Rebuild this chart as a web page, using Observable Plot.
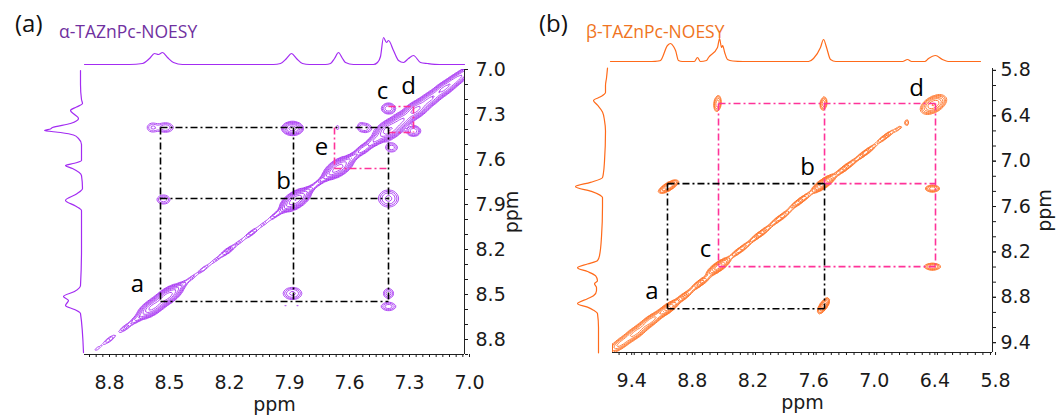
<!DOCTYPE html>
<html><head><meta charset="utf-8">
<script src="https://cdn.jsdelivr.net/npm/d3@7"></script>
<script src="https://cdn.jsdelivr.net/npm/@observablehq/plot@0.6"></script>
<style>
html,body{margin:0;padding:0;background:#fff;}
#wrap{position:relative;width:1056px;height:415px;overflow:hidden;}
.layer{position:absolute;}
.layer svg{display:block;max-width:none;}
.txt{position:absolute;white-space:nowrap;line-height:1;font-family:"Open Sans",sans-serif;}
</style></head><body>
<div id="wrap">
  <div class="txt" style="left:15px;top:11px;font-size:24px;color:#111">(a)</div>
  <div class="txt" style="left:59px;top:23px;font-size:17.5px;color:#7030a0">α-TAZnPc-NOESY</div>
  <div class="txt" style="left:539px;top:11px;font-size:24px;color:#111">(b)</div>
  <div class="txt" style="left:586px;top:23px;font-size:17.5px;color:#f07422">β-TAZnPc-NOESY</div>
</div>
<script>
// ---------- shared ----------
const contourLevels = [0.05, 0.075, 0.11, 0.17, 0.25, 0.38, 0.57, 0.85, 1.28, 1.9, 2.9];
const pink = "#ff3399";

// ---------- panel (a): alpha ----------
const xDomainA = [8.925, 7.025];
const yDomainA = [7.0, 8.9];
const xTicksA = [8.8, 8.5, 8.2, 7.9, 7.6, 7.3, 7.0];
const yTicksA = [7.0, 7.3, 7.6, 7.9, 8.2, 8.5, 8.8];
// diagonal peaks: [x ppm, y ppm, amplitude, width along diagonal, width across]
const diagA = [
  [8.86,8.86,0.07,0.02,0.01],[8.80,8.80,0.12,0.02,0.012],[8.72,8.72,0.14,0.022,0.012],
  [8.66,8.66,0.2,0.02,0.014],[8.585,8.585,1.0,0.03,0.026],[8.51,8.51,1.1,0.03,0.026],
  [8.45,8.45,0.2,0.022,0.014],[8.39,8.39,0.1,0.02,0.01],[8.33,8.33,0.12,0.02,0.01],
  [8.27,8.27,0.09,0.02,0.01],[8.21,8.21,0.2,0.022,0.012],[8.15,8.15,0.09,0.02,0.01],
  [8.09,8.09,0.16,0.02,0.011],[8.03,8.03,0.09,0.02,0.01],[7.97,7.97,0.15,0.02,0.011],
  [7.92,7.92,0.2,0.02,0.013],[7.87,7.87,1.3,0.028,0.028],[7.81,7.81,0.25,0.022,0.014],
  [7.75,7.75,0.18,0.02,0.012],[7.70,7.70,0.3,0.022,0.016],[7.655,7.655,1.1,0.028,0.028],
  [7.59,7.59,0.3,0.022,0.016],[7.53,7.53,0.35,0.022,0.018],[7.47,7.47,0.4,0.022,0.02],
  [7.40,7.40,1.3,0.028,0.032],[7.34,7.34,0.8,0.025,0.028],[7.27,7.27,1.0,0.028,0.028],
  [7.20,7.20,0.6,0.028,0.025],[7.13,7.13,0.6,0.028,0.024],[7.07,7.07,0.45,0.028,0.022],
  [7.01,7.01,0.3,0.025,0.02]
];
// cross peaks: [x ppm, y ppm, amplitude, sx, sy, tilt]
const crossA = [
  [8.585,7.387,0.12,0.02,0.022,0],[8.52,7.387,0.17,0.025,0.02,0],
  [7.885,7.393,0.5,0.0256,0.0217,0],[7.66,7.387,0.07,0.01,0.02,0],[7.545,7.38,0.08,0.012,0.02,0],
  [8.53,7.867,0.15,0.022,0.02,0],[8.595,7.907,0.06,0.008,0.01,0],
  [7.405,7.86,0.2,0.03,0.034,0],
  [7.885,8.493,0.2,0.028,0.024,0],[7.92,8.573,0.06,0.006,0.01,0],[7.86,8.573,0.06,0.006,0.01,0],
  [7.405,8.493,0.15,0.017,0.022,0],[7.405,8.58,0.15,0.025,0.018,0],
  [7.405,7.26,0.25,0.02,0.02,0],[7.28,7.41,0.25,0.02,0.02,0],
  [7.52,7.39,0.15,0.02,0.02,0],[7.39,7.52,0.15,0.02,0.02,0]
];
// correlation lines [x1, y1, x2, y2] in ppm
const blackA = [
  [8.545,7.387,7.405,7.387],[8.545,7.86,7.405,7.86],[8.545,8.547,7.405,8.547],
  [8.545,7.387,8.545,8.547],[7.88,7.387,7.88,8.547],[7.405,7.387,7.405,8.547]
];
const pinkA = [
  [7.675,7.387,7.675,7.66],[7.675,7.66,7.405,7.66],
  [7.405,7.247,7.28,7.247],[7.28,7.247,7.28,7.42],[7.405,7.42,7.28,7.42]
];
const labelsA = [["a",8.66,8.433],["b",7.93,7.747],["c",7.435,7.147],["d",7.305,7.113],["e",7.74,7.52]];
// 1D projections: [ppm, intensity]
const topA = [
  [8.925,0],[8.7,0],[8.635,1],[8.6,6],[8.575,11],[8.555,10],[8.535,12],[8.51,7],[8.48,2],[8.435,0],
  [7.98,0],[7.945,1],[7.915,6],[7.89,11],[7.865,6],[7.835,1],[7.8,0],
  [7.72,0],[7.695,1],[7.675,6],[7.655,12],[7.635,6],[7.62,2],[7.58,0],
  [7.48,0],[7.46,2],[7.445,8],[7.43,27],[7.415,22],[7.405,24],[7.38,14],[7.355,4],[7.33,2],
  [7.305,6],[7.28,9],[7.245,2],[7.21,1],[7.15,0],[7.025,0]
];
const leftA = [
  [7.007,0],[7.1,0],[7.2,-1],[7.227,-2],[7.25,4],[7.273,10],[7.3,6],[7.327,2],[7.36,10],
  [7.387,28],[7.397,30],[7.407,36],[7.42,20],[7.437,7],[7.46,2],[7.5,-1],[7.607,-1],
  [7.625,6],[7.64,15],[7.66,8],[7.707,-1],[7.793,-2],[7.83,4],[7.873,15],[7.91,5],[7.94,-1],
  [8.2,-1],[8.44,0],[8.48,6],[8.513,17],[8.54,12],[8.573,15],[8.6,6],[8.627,0],[8.887,-3]
];

// ---------- panel (b): beta ----------
const xDomainB = [9.59, 5.83];
const yDomainB = [5.775, 9.53];
const xTicksB = [9.4, 8.8, 8.2, 7.6, 7.0, 6.4, 5.8];
const yTicksB = [5.8, 6.4, 7.0, 7.6, 8.2, 8.8, 9.4];
const diagB = [
  [9.51,9.414,0.3,0.06,0.042],[9.362,9.269,0.45,0.06,0.042],[9.214,9.11,0.5,0.06,0.038],
  [9.046,8.951,0.7,0.05,0.032],[8.887,8.792,0.3,0.05,0.024],[8.719,8.607,0.35,0.05,0.024],
  [8.541,8.395,0.8,0.05,0.032],[8.323,8.17,0.28,0.06,0.021],[8.125,7.959,0.3,0.06,0.021],
  [7.928,7.747,0.28,0.06,0.021],[7.73,7.522,0.32,0.06,0.021],[7.502,7.297,0.8,0.05,0.032],
  [7.284,7.085,0.32,0.06,0.021],[7.087,6.887,0.28,0.06,0.02],[6.889,6.675,0.22,0.05,0.019],
  [6.76,6.569,0.1,0.03,0.018],[6.414,6.251,0.6,0.05,0.06]
];
const crossB = [
  [9.036,7.337,0.6,0.045,0.04,0.75],[7.502,8.912,0.5,0.028,0.05,0.7],
  [8.551,6.238,0.25,0.02,0.06,0.2],[7.502,6.238,0.25,0.018,0.05,0.2],
  [6.424,7.363,0.25,0.04,0.025,0],[6.424,8.395,0.25,0.045,0.025,0],
  [6.68,6.49,0.2,0.008,0.03,0],[8.739,9.362,0.08,0.006,0.022,0]
];
const blackB = [
  [9.046,7.297,9.046,8.951],[7.492,7.297,7.492,8.951],
  [9.046,7.297,7.492,7.297],[9.046,8.951,7.492,8.951]
];
const pinkB = [
  [8.541,6.238,8.541,8.395],[7.492,6.238,7.492,7.297],[6.394,6.238,6.394,8.395],
  [8.541,6.238,6.394,6.238],[7.492,7.297,6.394,7.297],[8.541,8.395,6.394,8.395]
];
const labelsB = [["a",9.2,8.726],["b",7.66,7.085],["c",8.67,8.17],["d",6.582,6.04]];
const topB = [
  [9.61,0],[9.2,0],[9.135,0.5],[9.115,1],[9.046,16],[9.016,18],[8.986,15],[8.966,11],[8.937,1],[8.9,0],
  [8.78,0],[8.749,4],[8.72,0],[8.66,1],[8.64,4],[8.551,14],[8.531,23],[8.511,14],[8.50,16],[8.48,9],
  [8.452,2],[8.4,0.5],[8.3,0],[7.65,0],[7.601,3],[7.532,14],[7.502,22],[7.472,14],[7.433,2],[7.38,0],
  [6.72,0],[6.671,2],[6.63,0],[6.50,0],[6.463,3],[6.394,6],[6.325,2],[6.27,0],[5.949,0]
];
const leftB = [
  [5.77,-2],[5.9,-1],[6.0,0],[6.093,0],[6.15,5],[6.198,12],[6.26,8],[6.35,3],[6.463,1],[6.6,0],
  [7.0,1],[7.15,2],[7.218,3],[7.28,15],[7.337,30],[7.4,14],[7.482,3],[7.6,3],[8.0,4],[8.25,6],
  [8.316,8],[8.36,18],[8.409,28],[8.46,18],[8.515,10],[8.581,8],[8.62,11],[8.67,9],[8.713,9],
  [8.78,12],[8.819,18],[8.885,28],[8.93,18],[8.97,12],[9.017,8],[9.2,7],[9.534,7]
];

// ---------- helpers ----------
const fmt = d3.format(".1f");
function field(diag, cross) {
  const peaks = [];
  for (const [x, y, a, sL, sW] of diag) {
    const vx = sL * sL + sW * sW / 4, cv = sL * sL - sW * sW / 4;
    const s = Math.sqrt(vx);
    peaks.push([x, y, a, s, s, cv / vx]);
  }
  for (const p of cross) peaks.push(p);
  return (x, y) => {
    let v = 0;
    for (const [x0, y0, a, sx, sy, r] of peaks) {
      const dx = (x - x0) / sx, dy = (y - y0) / sy;
      if (dx > 9 || dx < -9 || dy > 9 || dy < -9) continue;
      const q = (dx * dx - 2 * r * dx * dy + dy * dy) / (2 * (1 - r * r));
      if (q < 14) v += a * Math.exp(-q);
    }
    return v;
  };
}
const svgStyle = {background: "transparent", overflow: "visible", fontFamily: "'DejaVu Sans', sans-serif", fontSize: "19px", color: "#1a1a1a"};
function place(node, left, top) {
  const d = document.createElement("div");
  d.className = "layer";
  d.style.left = left + "px";
  d.style.top = top + "px";
  d.appendChild(node);
  document.getElementById("wrap").appendChild(d);
}
function mainPlot(o) {
  return Plot.plot({
    width: 528, height: 415,
    marginLeft: 84, marginRight: 64, marginTop: o.mt, marginBottom: o.mb,
    x: {domain: o.xDomain}, y: {domain: o.yDomain, reverse: true},
    style: svgStyle,
    marks: [
      Plot.contour(null, {x1: o.xDomain[0], x2: o.xDomain[1], y1: o.yDomain[0], y2: o.yDomain[1],
        value: field(o.diag, o.cross), thresholds: contourLevels, stroke: o.color, strokeWidth: 0.85, fill: "none"}),
      Plot.link(o.pink, {x1: d => d[0], y1: d => d[1], x2: d => d[2], y2: d => d[3], stroke: pink, strokeWidth: 1.6, strokeDasharray: "7,3,2,3"}),
      Plot.link(o.black, {x1: d => d[0], y1: d => d[1], x2: d => d[2], y2: d => d[3], stroke: "#000", strokeWidth: 1.6, strokeDasharray: "7,3,2,3"}),
      Plot.text(o.labels, {x: d => d[1], y: d => d[2], text: d => d[0], fontSize: 24, fontFamily: "'Open Sans', sans-serif", fill: "#000"}),
      Plot.ruleY([o.yDomain[1]], {stroke: "#222"}),
      Plot.ruleX([o.xDomain[1]], {stroke: "#222"}),
      Plot.axisX(o.xMinor, {tickSize: 3, tickFormat: () => "", label: null}),
      Plot.axisX(o.xTicks, {tickSize: 3, tickPadding: 18, tickFormat: fmt, label: "ppm", labelAnchor: "center", labelOffset: 56, labelArrow: "none"}),
      Plot.axisY(o.yMinor, {anchor: "right", tickSize: 3, tickFormat: () => "", label: null}),
      Plot.axisY(o.yTicks, {anchor: "right", tickSize: 3, tickPadding: o.yPad, tickFormat: fmt, label: "ppm", labelAnchor: "center", labelOffset: o.yLabelOffset, labelArrow: "none"})
    ]
  });
}
function topPlot(data, xDomain, color) {
  return Plot.plot({
    width: 528, height: 40, marginLeft: 84, marginRight: 64, marginTop: 0, marginBottom: 0,
    x: {domain: xDomain, axis: null}, y: {domain: [0, 40], axis: null}, style: svgStyle,
    marks: [Plot.line(data, {x: d => d[0], y: d => d[1], stroke: color, strokeWidth: 1.2, curve: "monotone-x"})]
  });
}
function leftPlot(data, yDomain, color, mt, mb, ml, mr) {
  return Plot.plot({
    width: 84, height: 415, marginLeft: ml, marginRight: mr, marginTop: mt, marginBottom: mb,
    x: {domain: [40, 0], axis: null}, y: {domain: yDomain, reverse: true, axis: null}, style: svgStyle,
    marks: [Plot.line(data, {x: d => d[1], y: d => d[0], stroke: color, strokeWidth: 1.2, curve: "monotone-y"})]
  });
}

const purple = "#a32cf2", orange = "#ff6a1a";
const xMinorA = d3.range(0, 58).map(i => 7.0 + i / 30).filter(v => v <= 8.925 && v >= 7.025);
const yMinorA = d3.range(0, 20).map(i => 7.0 + i / 10);
const xMinorB = d3.range(0, 52).map(i => 5.85 + i * 0.075).filter(v => v <= 9.59);
const yMinorB = d3.range(0, 19).map(i => 5.8 + i * 0.2).filter(v => v <= 9.53);

place(mainPlot({xDomain: xDomainA, yDomain: yDomainA, xTicks: xTicksA, yTicks: yTicksA, xMinor: xMinorA, yMinor: yMinorA,
  diag: diagA, cross: crossA, black: blackA, pink: pinkA, labels: labelsA, color: purple, mt: 69, mb: 61, yPad: 8, yLabelOffset: 53}), 0, 0);
place(topPlot(topA, xDomainA, purple), 0, 24);
place(leftPlot(leftA, yDomainA, purple, 69, 61, 40, 4), 0, 0);

place(mainPlot({xDomain: xDomainB, yDomain: yDomainB, xTicks: xTicksB, yTicks: yTicksB, xMinor: xMinorB, yMinor: yMinorB,
  diag: diagB, cross: crossB, black: blackB, pink: pinkB, labels: labelsB, color: orange, mt: 68, mb: 63, yPad: 5, yLabelOffset: 58}), 528, 0);
place(topPlot(topB, xDomainB, orange), 528, 21);
place(leftPlot(leftB, yDomainB, orange, 68, 63, 37, 7), 528, 0);
</script>
</body></html>
